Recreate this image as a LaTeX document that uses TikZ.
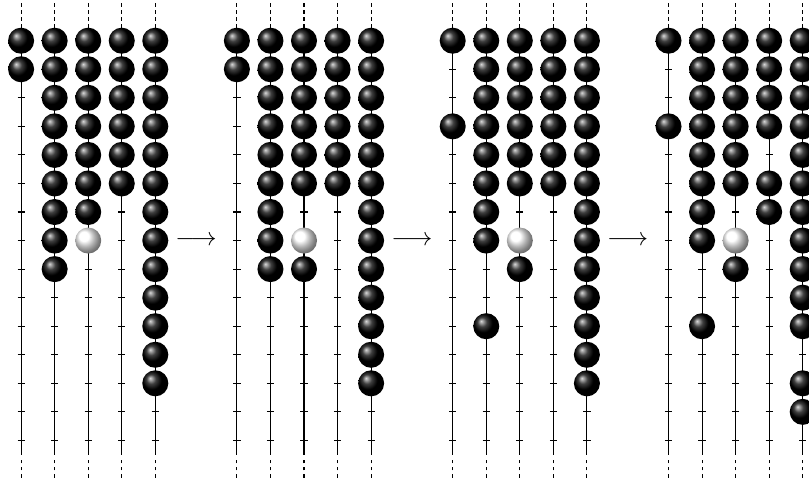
\documentclass[tikz,border=0pt]{standalone}
\begin{document}
\begin{tikzpicture}[x=0.43pt,y=-0.43pt,
  rod/.style={line width=0.45pt},
  rodend/.style={line width=0.45pt, dash pattern=on 1.42pt off 1.6pt},
  notch/.style={line width=0.45pt},
  bead/.style={circle, inner sep=0pt, minimum size=11.2pt, shade, shading=ball, ball color=black},
  hollow/.style={bead, ball color=white},
  move/.style={inner sep=0pt, scale=1.1}]
\clip (0,0) rectangle (809,479);

% rods: solid middle part with notches, dashed ends
\foreach \p in {0,...,3}{
  \foreach \c in {0,...,4}{
    \pgfmathsetmacro\xx{21.1+215.8*\p+33.55*\c}
    \coordinate (rt-\p-\c) at (\xx,26.4);
    \coordinate (rb-\p-\c) at (\xx,454.7);
    \coordinate (dt-\p-\c) at (\xx,3.3);
    \coordinate (db-\p-\c) at (\xx,477.5);
    \coordinate (gb-\p-\c) at (\xx,459.5);
    \draw[rod] (rt-\p-\c) -- (rb-\p-\c);
    \draw[rodend] (dt-\p-\c) -- (rt-\p-\c);
    \draw[rodend] (db-\p-\c) -- (gb-\p-\c);
    \foreach \r in {0,...,14}{
      \draw[notch] (\xx-3.6,40.7+28.55*\r) -- (\xx+3.6,40.7+28.55*\r);
    }
  }
}

% beads: panel, rod, rows, style
\newcommand\beadrun[4]{%
  \foreach \r in {#3}{%
    \node[#4] (k-#1-#2-\r) at ({21.1+215.8*#1+33.55*#2},{40.7+28.55*\r}) {};}}

% state 1
\beadrun{0}{0}{0,1}{bead}
\beadrun{0}{1}{0,1,2,3,4,5,6,7,8}{bead}
\beadrun{0}{2}{0,1,2,3,4,5,6}{bead}
\beadrun{0}{2}{7}{hollow}
\beadrun{0}{3}{0,1,2,3,4,5}{bead}
\beadrun{0}{4}{0,1,2,3,4,5,6,7,8,9,10,11,12}{bead}

% state 2
\beadrun{1}{0}{0,1}{bead}
\beadrun{1}{1}{0,1,2,3,4,5,6,7,8}{bead}
\beadrun{1}{2}{0,1,2,3,4,5,8}{bead}
\beadrun{1}{2}{7}{hollow}
\beadrun{1}{3}{0,1,2,3,4,5}{bead}
\beadrun{1}{4}{0,1,2,3,4,5,6,7,8,9,10,11,12}{bead}

% state 3
\beadrun{2}{0}{0,3}{bead}
\beadrun{2}{1}{0,1,2,3,4,5,6,7,10}{bead}
\beadrun{2}{2}{0,1,2,3,4,5,8}{bead}
\beadrun{2}{2}{7}{hollow}
\beadrun{2}{3}{0,1,2,3,4,5}{bead}
\beadrun{2}{4}{0,1,2,3,4,5,6,7,8,9,10,11,12}{bead}

% state 4
\beadrun{3}{0}{0,3}{bead}
\beadrun{3}{1}{0,1,2,3,4,5,6,7,10}{bead}
\beadrun{3}{2}{0,1,2,3,4,5,8}{bead}
\beadrun{3}{2}{7}{hollow}
\beadrun{3}{3}{0,1,2,3,5,6}{bead}
\beadrun{3}{4}{0,1,2,3,4,5,6,7,8,9,10,12,13}{bead}

% transitions
\node[move] (m1) at (196.1,241) {$\longrightarrow$};
\node[move] (m2) at (411.9,241) {$\longrightarrow$};
\node[move] (m3) at (627.7,241) {$\longrightarrow$};
\end{tikzpicture}
\end{document}
